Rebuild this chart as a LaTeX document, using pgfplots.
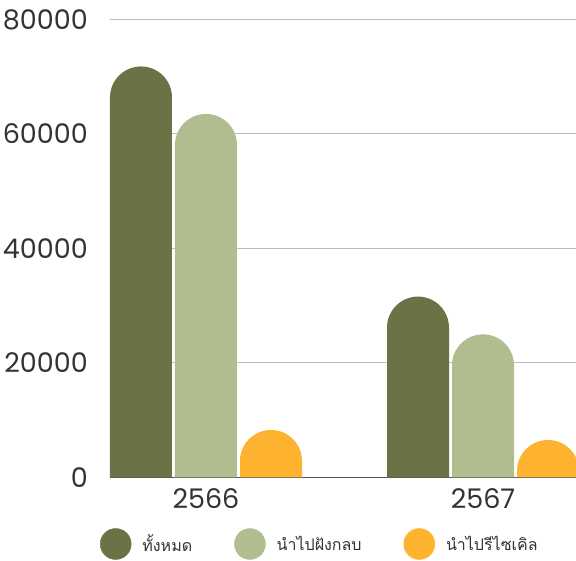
\documentclass[border=0pt]{standalone}
\usepackage{fontspec}
\usepackage{pgfplots}
\usepackage{pgfplotstable}
\pgfplotsset{compat=1.18}
\setmainfont{Poppins}
\newfontfamily\thaifont[Script=Thai]{Loma}

\definecolor{darkolive}{HTML}{6A7345}
\definecolor{sage}{HTML}{B0BE8F}
\definecolor{amber}{HTML}{FDB230}
\definecolor{gridgray}{HTML}{BDBDBD}
\definecolor{axisgray}{HTML}{555555}
\definecolor{txt}{HTML}{333333}

% rounded bar top: half disc sitting on the bar end
\pgfdeclareplotmark{halfdisc}{%
  \pgfpathmoveto{\pgfqpoint{\pgfplotmarksize}{-1pt}}%
  \pgfpathlineto{\pgfqpoint{\pgfplotmarksize}{0pt}}%
  \pgfpatharc{0}{180}{\pgfplotmarksize}%
  \pgfpathlineto{\pgfqpoint{-\pgfplotmarksize}{-1pt}}%
  \pgfpathclose\pgfusepathqfill}

% group 0 = 2566, group 1 = 2567
\pgfplotstableread{
x v
0 71800
1 31600
}\total
\pgfplotstableread{
x v
0 63500
1 25000
}\landfill
\pgfplotstableread{
x v
0 8300
1 6550
}\recycle

\def\R{5415}   % radius of the bar cap in y units
\def\dx{0.23466}

\begin{document}
\begin{tikzpicture}
\useasboundingbox (-110pt,-83.5pt) rectangle (466pt,477.5pt);
\begin{axis}[
  scale only axis,
  width=466pt, height=458pt,
  xmin=-0.34657, xmax=1.33574,
  ymin=0, ymax=80000,
  ytick={0,20000,40000,60000,80000},
  xtick={0,1}, xticklabels={2566,2567},
  scaled y ticks=false,
  /pgf/number format/1000 sep={},
  /pgf/number format/assume math mode=true,
  major tick length=0pt,
  ymajorgrids,
  grid style={draw=gridgray, line width=1pt},
  axis x line*=bottom, axis y line*=left,
  x axis line style={draw=axisgray, line width=1pt, -},
  y axis line style={draw=none},
  clip marker paths=true,
  tick label style={font=\fontsize{27}{27}\selectfont, text=txt},
  yticklabel style={anchor=east, inner sep=0pt, xshift=-22pt},
  xticklabel style={anchor=north, inner sep=0pt, yshift=-11pt},
  legend columns=3,
  legend style={at={(axis description cs:0,0)}, anchor=west,
    xshift=-10pt, yshift=-66.5pt, draw=none, fill=none,
    inner sep=0pt, outer sep=0pt,
    font=\thaifont\fontsize{16}{16}\selectfont, text=txt,
    nodes={inner sep=0pt},
    /tikz/every odd column/.append style={column sep=11pt},
    /tikz/every even column/.append style={column sep=42pt}},
  legend image code/.code={\fill[#1] (0pt,0pt) circle (15.5pt);},
]
\addplot[ybar, bar width=62pt, bar shift=0pt, fill=darkolive, draw=none, forget plot]
  table[x expr=\thisrow{x}-\dx, y expr=\thisrow{v}-\R] {\total};
\addplot[ybar, bar width=62pt, bar shift=0pt, fill=sage, draw=none, forget plot]
  table[x expr=\thisrow{x}, y expr=\thisrow{v}-\R] {\landfill};
\addplot[ybar, bar width=62pt, bar shift=0pt, fill=amber, draw=none, forget plot]
  table[x expr=\thisrow{x}+\dx, y expr=\thisrow{v}-\R] {\recycle};

\addplot[only marks, mark=halfdisc, mark size=31pt, color=darkolive]
  table[x expr=\thisrow{x}-\dx, y expr=\thisrow{v}-\R] {\total};
\addlegendentry{ทั้งหมด}
\addplot[only marks, mark=halfdisc, mark size=31pt, color=sage]
  table[x expr=\thisrow{x}, y expr=\thisrow{v}-\R] {\landfill};
\addlegendentry{นำไปฝังกลบ}
\addplot[only marks, mark=halfdisc, mark size=31pt, color=amber]
  table[x expr=\thisrow{x}+\dx, y expr=\thisrow{v}-\R] {\recycle};
\addlegendentry{นำไปรีไซเคิล}
\end{axis}
\end{tikzpicture}
\end{document}
